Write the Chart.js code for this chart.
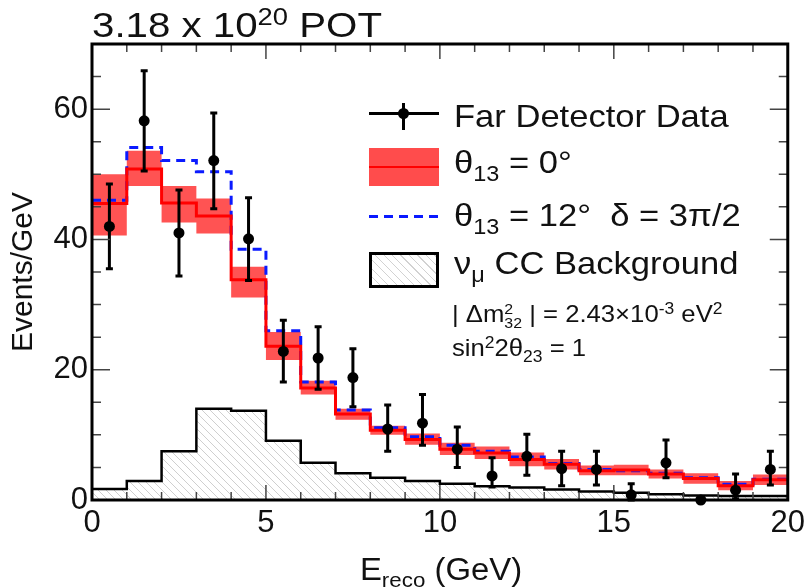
<!DOCTYPE html>
<html>
<head>
<meta charset="utf-8">
<script src="https://cdn.jsdelivr.net/npm/chart.js@4.4.1/dist/chart.umd.min.js"></script>
<style>
  body { margin: 0; background: #fff; }
  #wrap { position: relative; width: 810px; height: 587px; font-family: "Liberation Sans", Arial, sans-serif; color: #111; }
  #chart { position: absolute; left: 0; top: 0; }
  .t { position: absolute; white-space: nowrap; line-height: 1; transform-origin: 0 0; }
  .t sup { font-size: 0.68em; vertical-align: 0.5em; line-height: 0; }
  .t sub { font-size: 0.68em; vertical-align: -0.35em; line-height: 0; }
  .stk { display: inline-block; font-size: 0.62em; line-height: 0.95; vertical-align: -0.38em; }
  .sym { position: absolute; }
  .leg { font-size: 32px; transform: scaleX(1.08); }
  .small { font-size: 24px; transform: scaleX(1.07); }
</style>
</head>
<body>
<div id="wrap">
  <canvas id="chart" width="810" height="587"></canvas>

  <div class="t" style="left:92px;top:7px;font-size:35px;transform:scaleX(1.15);">3.18 x 10<sup>20</sup> POT</div>

  <!-- legend -->
  <div class="sym" style="left:369px;top:112px;width:70px;height:3px;background:#000;"></div>
  <div class="sym" style="left:402px;top:103px;width:3px;height:27px;background:#000;"></div>
  <div class="sym" style="left:398px;top:108px;width:11px;height:11px;border-radius:50%;background:#000;"></div>
  <div class="t leg" style="left:454px;top:100px;">Far Detector Data</div>

  <div class="sym" style="left:369px;top:148px;width:70px;height:38px;background:rgba(255,45,45,0.85);"></div>
  <div class="sym" style="left:369px;top:166px;width:70px;height:2px;background:#f00;"></div>
  <div class="t leg" style="left:454px;top:146px;">&theta;<sub>13</sub> = 0&deg;</div>

  <div class="sym" style="left:369px;top:215px;width:70px;height:3px;background:repeating-linear-gradient(90deg,#0a1aff 0 9px,transparent 9px 15px);"></div>
  <div class="t leg" style="left:454px;top:199px;">&theta;<sub>13</sub> = 12&deg;&nbsp; &delta; = 3&pi;/2</div>

  <div class="sym" style="left:369px;top:252px;width:64px;height:30px;border:3px solid #000;background:repeating-linear-gradient(45deg,#fff 0 5px,#d2d2d2 5px 6px);"></div>
  <div class="t leg" style="left:454px;top:247px;">&nu;<sub>&mu;</sub> CC Background</div>

  <div class="t small" style="left:452px;top:302px;">|&nbsp;&Delta;m<span class="stk">2<br>32</span>&nbsp;| = 2.43&times;10<sup>-3</sup> eV<sup>2</sup></div>
  <div class="t small" style="left:452px;top:336px;">sin<sup>2</sup>2&theta;<sub>23</sub> = 1</div>

  <div class="t" style="left:441px;top:554px;font-size:31px;transform:translateX(-50%) scaleX(1.06);transform-origin:50% 0;">E<sub>reco</sub> (GeV)</div>
</div>

<script>
// bin edges (GeV)
const binEdges = [0, 1, 2, 3, 4, 5, 6, 7, 8, 9, 10, 11, 12, 13, 14, 15, 16, 17, 18, 19, 20];

// theta13 = 0 prediction with its systematic band
const theta0Central = [45.5, 50.8, 45.6, 43.6, 33.8, 23.6, 17.2, 13.2, 10.7, 9.3, 7.8, 7.2, 6.2, 5.5, 4.5, 4.6, 4.0, 3.3, 2.2, 3.1];
const theta0Upper   = [50.0, 53.6, 48.2, 46.3, 35.8, 25.8, 18.3, 14.0, 11.4, 10.2, 8.8, 8.2, 7.3, 6.3, 5.3, 5.4, 4.7, 4.1, 2.9, 3.9];
const theta0Lower   = [40.6, 48.2, 42.6, 40.9, 31.1, 21.5, 16.2, 12.3, 10.0, 8.5, 6.9, 6.3, 5.2, 4.7, 3.8, 3.8, 3.3, 2.5, 1.5, 2.3];

// theta13 = 12 deg, delta = 3pi/2
const theta12 = [46.0, 54.1, 52.1, 50.4, 38.5, 26.0, 18.1, 13.8, 11.1, 9.7, 8.4, 7.5, 6.6, 5.6, 4.7, 4.5, 4.1, 3.4, 2.4, 3.2];

// numu CC background
const numuBkg = [1.7, 2.9, 7.5, 14.0, 13.7, 9.1, 5.7, 4.1, 3.4, 2.9, 2.5, 2.1, 1.9, 1.6, 1.3, 1.1, 0.9, 0.7, 0.6, 0.6];

// far detector data
const dataX    = [0.5, 1.5, 2.5, 3.5, 4.5, 5.5, 6.5, 7.5, 8.5, 9.5, 10.5, 11.5, 12.5, 13.5, 14.5, 15.5, 16.5, 17.5, 18.5, 19.5];
const dataY    = [42.0, 58.2, 41.0, 52.1, 40.1, 22.8, 21.8, 18.8, 10.9, 11.8, 7.8, 3.7, 6.7, 4.8, 4.7, 0.8, 5.7, 0.0, 1.5, 4.7];
const dataLow  = [35.5, 50.5, 34.4, 44.7, 33.7, 18.1, 17.0, 14.3, 7.5, 8.4, 5.0, 2.0, 3.8, 2.2, 2.3, 0.0, 3.4, 0.0, 0.2, 2.3];
const dataHigh = [48.5, 65.9, 47.6, 59.4, 46.4, 27.6, 26.6, 23.2, 14.6, 16.2, 11.2, 6.5, 10.1, 7.5, 7.5, 2.5, 9.2, 0.0, 4.0, 7.5];

// axis ticks
const xMajor = [0, 5, 10, 15, 20];
const xMinor = [1, 2, 3, 4, 6, 7, 8, 9, 11, 12, 13, 14, 16, 17, 18, 19];
const yMajor = [0, 20, 40, 60];
const yMinor = [5, 10, 15, 25, 30, 35, 45, 50, 55, 65];

function histPoints(vals) {
  const pts = vals.map((v, i) => ({ x: binEdges[i], y: v }));
  pts.push({ x: binEdges[vals.length], y: vals[vals.length - 1] });
  return pts;
}

function hatchPattern() {
  const s = 8;
  const c = document.createElement("canvas");
  c.width = s; c.height = s;
  const g = c.getContext("2d");
  g.fillStyle = "#fff";
  g.fillRect(0, 0, s, s);
  g.strokeStyle = "#cfcfcf";
  g.lineWidth = 1;
  g.beginPath();
  for (let k = -1; k <= 1; k++) {
    g.moveTo(k * s, 0);
    g.lineTo(k * s + s, s);
  }
  g.stroke();
  return g.createPattern(c, "repeat");
}

// ROOT style frame: box, inward ticks on all sides, data error bars
const rootFrame = {
  id: "rootFrame",
  afterDatasetsDraw(chart) {
    const { ctx, chartArea: a, scales } = chart;
    const xs = scales.x, ys = scales.y;
    ctx.save();

    // error bars
    ctx.strokeStyle = "#000";
    ctx.lineWidth = 3;
    dataX.forEach((xv, i) => {
      if (dataHigh[i] <= dataLow[i]) return;
      const px = xs.getPixelForValue(xv);
      const y1 = ys.getPixelForValue(dataLow[i]);
      const y2 = ys.getPixelForValue(dataHigh[i]);
      ctx.beginPath();
      ctx.moveTo(px, y1); ctx.lineTo(px, y2);
      ctx.moveTo(px - 3.5, y1); ctx.lineTo(px + 3.5, y1);
      ctx.moveTo(px - 3.5, y2); ctx.lineTo(px + 3.5, y2);
      ctx.stroke();
    });

    // ticks
    ctx.strokeStyle = "#444";
    ctx.lineWidth = 1.5;
    ctx.beginPath();
    const xTick = (v, len) => {
      const px = xs.getPixelForValue(v);
      ctx.moveTo(px, a.bottom); ctx.lineTo(px, a.bottom - len);
      ctx.moveTo(px, a.top); ctx.lineTo(px, a.top + len);
    };
    const yTick = (v, len) => {
      const py = ys.getPixelForValue(v);
      ctx.moveTo(a.left, py); ctx.lineTo(a.left + len, py);
      ctx.moveTo(a.right, py); ctx.lineTo(a.right - len, py);
    };
    xMajor.forEach(v => xTick(v, 15));
    xMinor.forEach(v => xTick(v, 8));
    yMajor.forEach(v => yTick(v, 18));
    yMinor.forEach(v => yTick(v, 9));
    ctx.stroke();

    // frame
    ctx.strokeStyle = "#000";
    ctx.lineWidth = 3;
    ctx.strokeRect(a.left, a.top, a.width, a.height);
    ctx.restore();
  }
};

const tickFont = { family: "'Liberation Sans', Arial, sans-serif", size: 31 };

new Chart(document.getElementById("chart"), {
  type: "line",
  data: {
    datasets: [
      {
        label: "Far Detector Data",
        data: dataX.map((x, i) => ({ x: x, y: dataY[i] })),
        showLine: false,
        pointRadius: 5.5,
        pointBackgroundColor: "#000",
        pointBorderWidth: 0,
        clip: false,
        order: 0
      },
      {
        label: "θ13 = 0°",
        data: histPoints(theta0Central),
        stepped: true,
        borderColor: "#ff0000",
        borderWidth: 3,
        pointRadius: 0,
        fill: false,
        order: 1
      },
      {
        label: "θ13 = 12° δ = 3π/2",
        data: histPoints(theta12),
        stepped: true,
        borderColor: "#0a1aff",
        borderWidth: 3,
        borderDash: [9, 6],
        pointRadius: 0,
        fill: false,
        order: 2
      },
      {
        label: "band upper",
        data: histPoints(theta0Upper),
        stepped: true,
        borderWidth: 0,
        pointRadius: 0,
        backgroundColor: "rgba(255, 45, 45, 0.82)",
        fill: "+1",
        order: 3
      },
      {
        label: "band lower",
        data: histPoints(theta0Lower),
        stepped: true,
        borderWidth: 0,
        pointRadius: 0,
        fill: false,
        order: 3
      },
      {
        label: "νμ CC Background",
        data: histPoints(numuBkg),
        stepped: true,
        borderColor: "#000",
        borderWidth: 2.5,
        backgroundColor: hatchPattern(),
        pointRadius: 0,
        fill: "origin",
        order: 5
      }
    ]
  },
  options: {
    responsive: false,
    animation: false,
    devicePixelRatio: 1,
    layout: { padding: { top: 44, right: 20, left: 0, bottom: 0 } },
    plugins: {
      legend: { display: false },
      tooltip: { enabled: false }
    },
    scales: {
      x: {
        type: "linear",
        min: 0,
        max: 20,
        grid: { display: false, drawTicks: false },
        border: { display: false },
        afterBuildTicks(scale) { scale.ticks = xMajor.map(v => ({ value: v })); },
        ticks: {
          color: "#111",
          font: tickFont,
          padding: 5,
          maxRotation: 0
        },
        afterFit(scale) { scale.height = 87; }
      },
      y: {
        type: "linear",
        min: 0,
        max: 70,
        grid: { display: false, drawTicks: false },
        border: { display: false },
        afterBuildTicks(scale) { scale.ticks = yMajor.map(v => ({ value: v })); },
        ticks: {
          color: "#111",
          font: tickFont,
          padding: 4
        },
        title: {
          display: true,
          text: "Events/GeV",
          color: "#111",
          font: { family: "'Liberation Sans', Arial, sans-serif", size: 30 },
          padding: { top: 6, bottom: 0 }
        },
        afterFit(scale) { scale.width = 92; }
      }
    }
  },
  plugins: [rootFrame]
});
</script>
</body>
</html>
